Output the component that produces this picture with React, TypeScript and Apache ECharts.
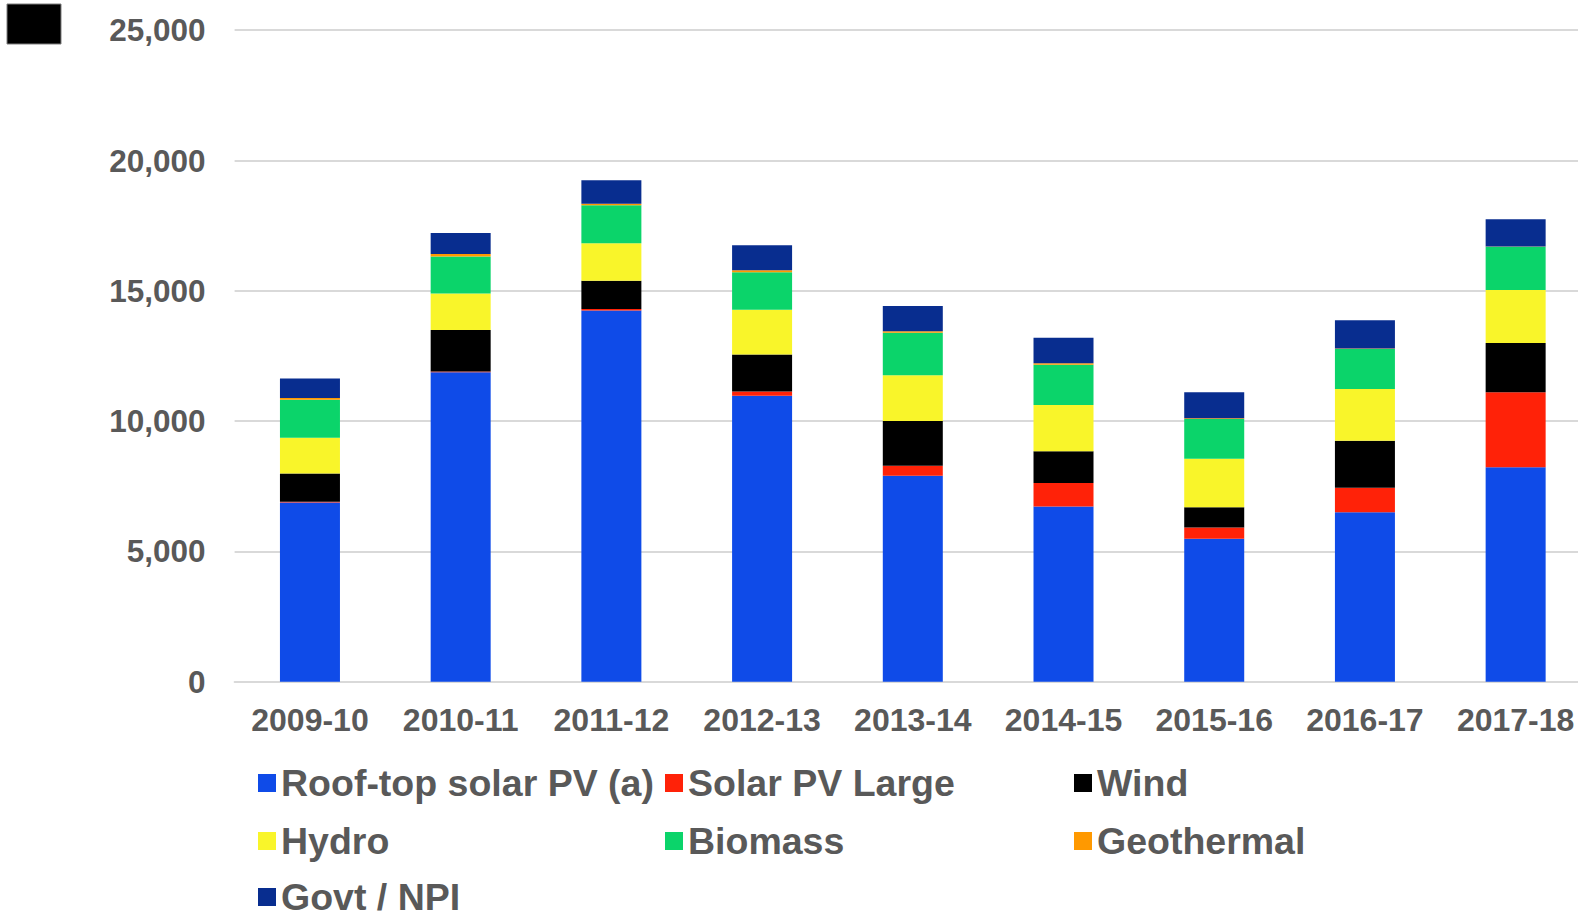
import React, { useEffect, useRef } from "react";
import * as echarts from "echarts";

const categories = ["2009-10", "2010-11", "2011-12", "2012-13", "2013-14", "2014-15", "2015-16", "2016-17", "2017-18"];
const rooftop = [6880, 11870, 14240, 10970, 7900, 6720, 5490, 6500, 8230];
const solarLarge = [30, 30, 60, 170, 390, 900, 430, 940, 2880];
const wind = [1080, 1600, 1090, 1420, 1710, 1220, 770, 1810, 1890];
const hydro = [1370, 1400, 1430, 1710, 1760, 1780, 1870, 1980, 2030];
const biomass = [1460, 1420, 1460, 1440, 1630, 1540, 1520, 1540, 1660];
const geothermal = [70, 90, 60, 80, 60, 60, 30, 20, 10];
const govt = [740, 810, 900, 960, 970, 980, 1000, 1080, 1050];

const seriesDefs = [
  { name: "Roof-top solar PV (a)", data: rooftop, color: "#0f4be8" },
  { name: "Solar PV Large", data: solarLarge, color: "#ff2208" },
  { name: "Wind", data: wind, color: "#000000" },
  { name: "Hydro", data: hydro, color: "#f9f52a" },
  { name: "Biomass", data: biomass, color: "#0bd46a" },
  { name: "Geothermal", data: geothermal, color: "#ff9900" },
  { name: "Govt / NPI", data: govt, color: "#082d8f" },
];

const FONT = "'Liberation Sans', Arial, sans-serif";
const TXT = "#595959";

const legendPos = [
  { left: 258, top: 764 },
  { left: 665, top: 764 },
  { left: 1074, top: 764 },
  { left: 258, top: 822 },
  { left: 665, top: 822 },
  { left: 1074, top: 822 },
  { left: 258, top: 878 },
];

export default function App() {
  const ref = useRef<HTMLDivElement>(null);
  useEffect(() => {
    document.body.style.margin = "0";
    document.body.style.overflow = "hidden";
    const chart = echarts.init(ref.current!, null, { renderer: "svg" });
    chart.setOption({
      animation: false,
      grid: { left: 234.6, right: 0, top: 30.2, bottom: 232.3, containLabel: false },
      graphic: [
        {
          type: "rect",
          shape: { x: 7, y: 4, width: 54, height: 40 },
          style: { fill: "#000000", stroke: "#7f7f7f", lineWidth: 1 },
        },
      ],
      legend: seriesDefs.map((s, i) => ({
        data: [s.name],
        left: legendPos[i].left,
        top: legendPos[i].top,
        padding: 0,
        icon: "rect",
        itemWidth: 18,
        itemHeight: 18,
        selectedMode: false,
        textStyle: { fontSize: 37.5, fontWeight: "bold", color: TXT, fontFamily: FONT },
      })),
      xAxis: {
        type: "category",
        data: categories,
        axisLine: { show: true, lineStyle: { color: "#d9d9d9", width: 2 } },
        axisTick: { show: false },
        axisLabel: {
          fontSize: 32,
          fontWeight: "bold",
          color: TXT,
          fontFamily: FONT,
          margin: 22,
          interval: 0,
        },
      },
      yAxis: {
        type: "value",
        min: 0,
        max: 25000,
        interval: 5000,
        axisLine: { show: false },
        axisTick: { show: false },
        splitLine: { lineStyle: { color: "#d9d9d9", width: 2 } },
        axisLabel: {
          fontSize: 31.5,
          fontWeight: "bold",
          color: TXT,
          fontFamily: FONT,
          margin: 29,
          formatter: (v: number) => v.toLocaleString("en-US"),
        },
      },
      series: seriesDefs.map((s) => ({
        name: s.name,
        type: "bar",
        stack: "total",
        data: s.data,
        barWidth: 60,
        itemStyle: { color: s.color },
      })),
    });
    return () => chart.dispose();
  }, []);
  return <div ref={ref} style={{ width: 1591, height: 914, position: "absolute", left: 0, top: 0 }} />;
}
